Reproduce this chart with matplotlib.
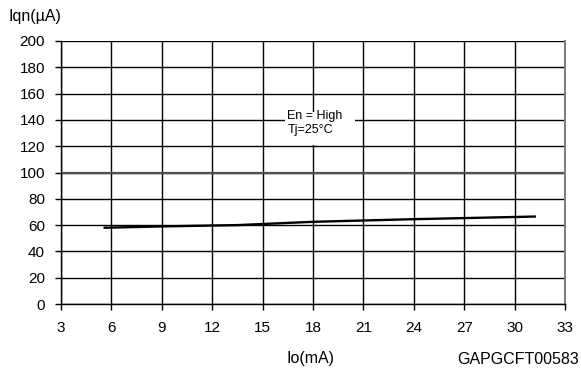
import matplotlib
matplotlib.use("Agg")
import matplotlib.pyplot as plt
from matplotlib.patches import Rectangle

plt.rcParams['font.family'] = ['Liberation Sans', 'DejaVu Sans']

io_ma = [5.6, 9.0, 13.5, 18.0, 24.0, 31.2]
iqn_ua = [58.0, 59.0, 60.0, 62.5, 64.5, 66.5]
xticks = [3, 6, 9, 12, 15, 18, 21, 24, 27, 30, 33]
yticks = [0, 20, 40, 60, 80, 100, 120, 140, 160, 180, 200]

fig = plt.figure(figsize=(5.81, 3.72), dpi=100)
ax = fig.add_axes([61/581, 1-304/372, (565-61)/581, (304-41)/372])
ax.set_xlim(3, 33)
ax.set_ylim(0, 200)
ax.set_xticks(xticks)
ax.set_yticks(yticks)
ax.grid(True, color='black', linewidth=1.0)
ax.set_axisbelow(True)
ax.axhline(yticks[5], color='#505050', linewidth=1.6, zorder=1)
ax.plot(io_ma, iqn_ua, color='black', linewidth=1.7, zorder=3)
for s in ['left', 'bottom']:
    ax.spines[s].set_color('black')
    ax.spines[s].set_linewidth(1.0)
ax.spines['top'].set_visible(False)
ax.spines['right'].set_color('#808080')
ax.spines['right'].set_linewidth(1.5)
ax.tick_params(axis='both', direction='out', length=4.5, width=1, labelsize=11, colors='black')
ax.tick_params(axis='x', pad=8)
ax.tick_params(axis='y', pad=7)

ax.add_patch(Rectangle((0.444, 0.605), 0.139, 0.125, transform=ax.transAxes,
                       facecolor='white', edgecolor='none', zorder=2))
ax.text(0.449, 0.688, "En = High\nTj=25°C", transform=ax.transAxes, fontsize=9,
        va='center', ha='left', linespacing=1.15, zorder=4)

fig.text(8/581, 1-17/372, "Iqn(µA)", fontsize=11.5, va='center', ha='left')
fig.text(311/581, 1-359/372, "Io(mA)", fontsize=11.5, va='center', ha='center')
fig.text(518/581, 1-359/372, "GAPGCFT00583", fontsize=11.5, va='center', ha='center')

fig.savefig("out.png", dpi=100)
